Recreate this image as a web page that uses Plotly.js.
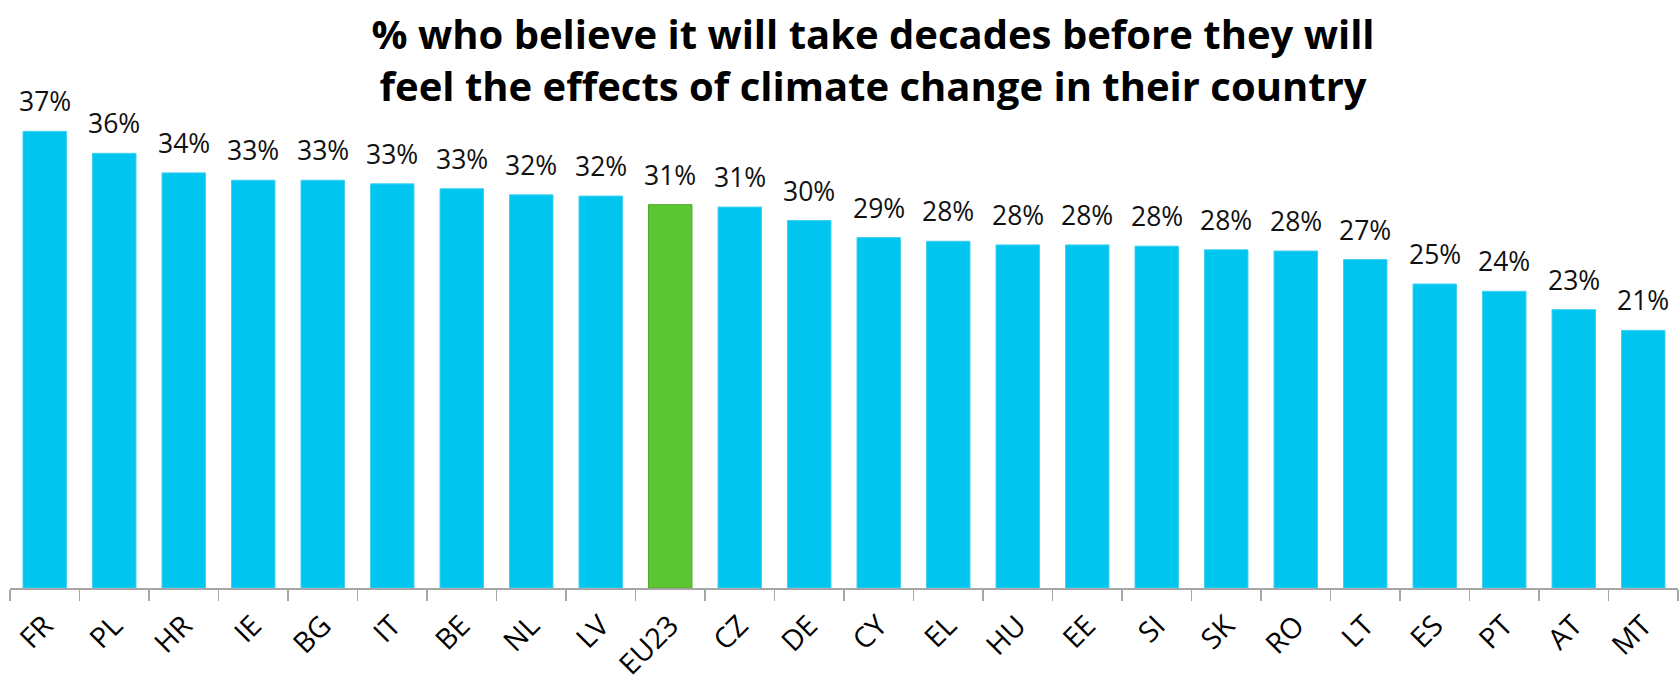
<!DOCTYPE html>
<html>
<head>
<meta charset="utf-8">
<script src="https://cdn.plot.ly/plotly-3.0.1.min.js"></script>
<style>
html,body{margin:0;padding:0;background:#fff;}
#chart{width:1679px;height:686px;}
</style>
</head>
<body>
<div id="chart"></div>
<script>
// Data
const countries = ["FR","PL","HR","IE","BG","IT","BE","NL","LV","EU23","CZ","DE","CY","EL","HU","EE","SI","SK","RO","LT","ES","PT","AT","MT"];
const shares = [37.4,35.6,34.0,33.4,33.4,33.1,32.7,32.2,32.1,31.4,31.2,30.1,28.7,28.4,28.1,28.1,28.0,27.7,27.6,26.9,24.9,24.3,22.8,21.1];
const highlight = "EU23";
const titleText = "% who believe it will take decades before they will<br>feel the effects of climate change in their country";

const cyan = "#00C5EF";
const green = "#5CC533";
const colors = countries.map(c => c === highlight ? green : cyan);
const lineColors = countries.map(c => c === highlight ? "#4FA82A" : "#3FD0F2");

const font = "'Open Sans', 'Noto Sans', sans-serif";

const trace = {
  type: "bar",
  x: countries,
  y: shares,
  marker: {color: colors, line: {color: lineColors, width: 1}},
  hoverinfo: "none"
};

const annotations = countries.map((c, i) => ({
  x: c, y: shares[i], xref: "x", yref: "y",
  text: Math.round(shares[i]) + "%",
  showarrow: false, yanchor: "bottom", yshift: 10,
  font: {family: font, size: 26.5, color: "#111"}
}));

const layout = {
  width: 1679, height: 686,
  margin: {l: 10, r: 1, t: 0, b: 98, pad: 0},
  paper_bgcolor: "#fff", plot_bgcolor: "#fff",
  showlegend: false,
  bargap: 0.375,
  title: {
    text: titleText,
    x: 0.52, xanchor: "center", xref: "container",
    y: 1 - 49/686, yanchor: "top", yref: "container",
    font: {family: font, size: 40, color: "#000", weight: "bold"}
  },
  xaxis: {
    type: "category",
    showline: true, linecolor: "#A6A6A6", linewidth: 1.5,
    ticks: "outside", ticklen: 11, tickcolor: "#A6A6A6", tickwidth: 1.5,
    tickson: "boundaries",
    tickangle: -45,
    ticklabelstandoff: 8,
    tickfont: {family: font, size: 28.5, color: "#000"},
    showgrid: false, zeroline: false, fixedrange: true
  },
  yaxis: {
    range: [0, 48.16], visible: false, showgrid: false, zeroline: false, fixedrange: true
  },
  annotations: annotations
};

Plotly.newPlot("chart", [trace], layout, {displayModeBar: false, staticPlot: true});
</script>
</body>
</html>
